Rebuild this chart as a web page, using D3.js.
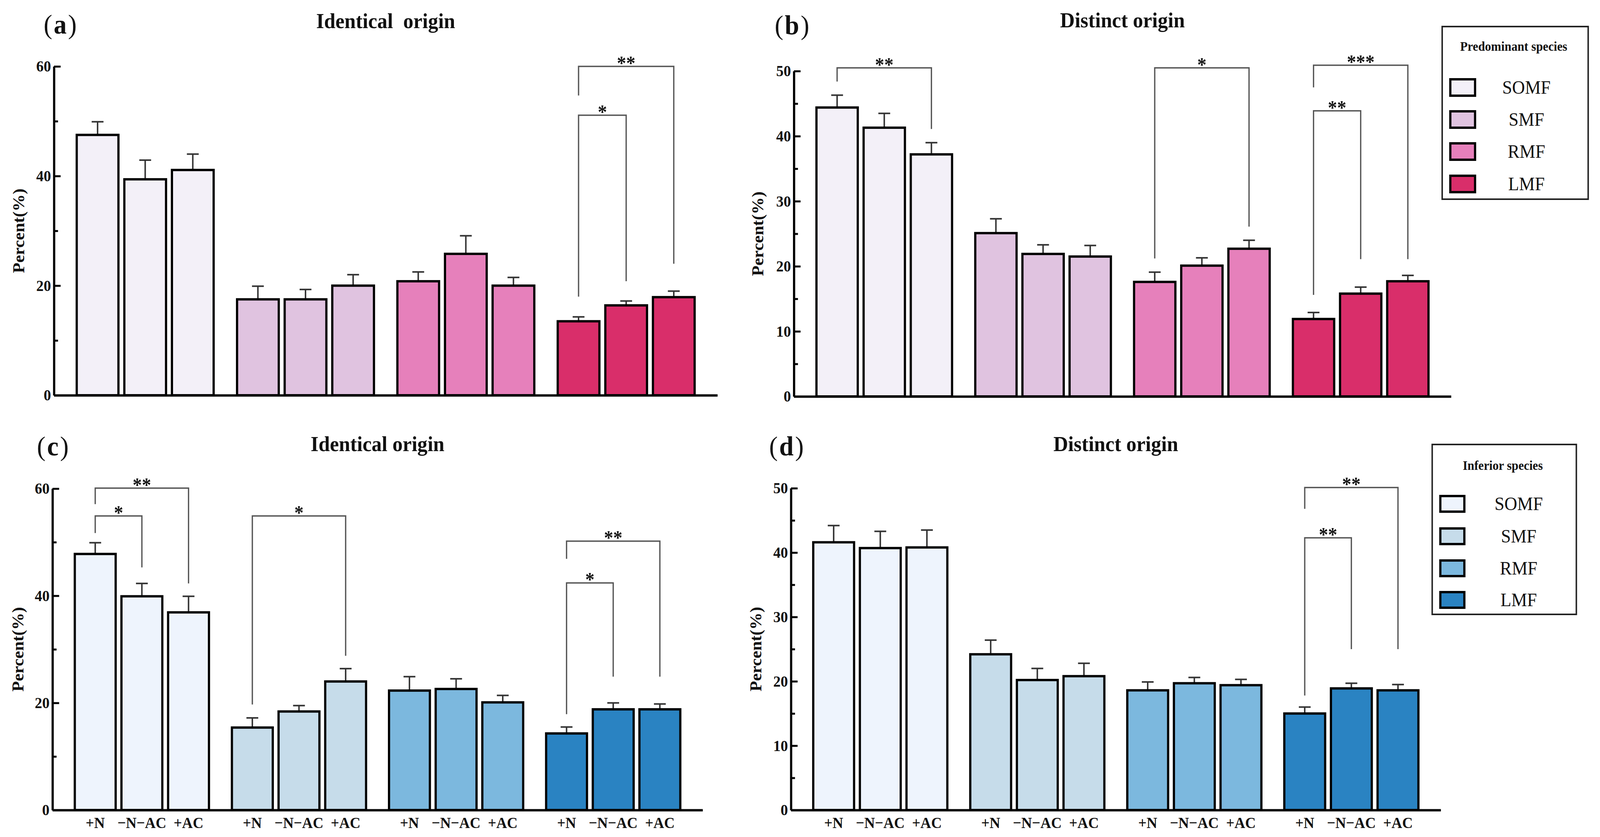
<!DOCTYPE html>
<html><head><meta charset="utf-8">
<script src="https://cdn.jsdelivr.net/npm/d3@7"></script>
<style>
html,body{margin:0;padding:0;width:100%;height:100%;overflow:hidden;background:#fff}
svg{display:block;width:100vw;height:100vh;background:#fff}
text{font-family:"Liberation Serif","Times New Roman",serif;fill:#111}
</style>
</head><body>
<svg id="chart" viewBox="0 0 4329 2143" preserveAspectRatio="none"></svg>
<script>
// ---------- data ----------
const groups = ["SOMF", "SMF", "RMF", "LMF"];
const treatments = ["+N", "−N−AC", "+AC"];
const pinkColors = ["#f3f0f8", "#e0c3e0", "#e680bb", "#d92e6a"];
const blueColors = ["#eef4fd", "#c6dcea", "#7cb8de", "#2a83c2"];
const ticks60 = [0, 20, 40, 60];
const minor60 = [10, 30, 50];
const ticks50 = [0, 10, 20, 30, 40, 50];
const minor50 = [5, 15, 25, 35, 45];

// means (rows = groups SOMF..LMF, cols = treatments +N, −N−AC, +AC)
const meanA = [[47.5, 39.4, 41.1], [17.5, 17.5, 20.0], [20.8, 25.8, 20.0], [13.5, 16.4, 17.9]];
const errA  = [[2.4, 3.5, 2.9], [2.4, 1.8, 2.0], [1.7, 3.3, 1.5], [0.8, 0.8, 1.1]];
const meanB = [[44.4, 41.3, 37.2], [25.1, 21.9, 21.5], [17.6, 20.1, 22.7], [11.9, 15.8, 17.7]];
const errB  = [[1.9, 2.2, 1.8], [2.2, 1.4, 1.7], [1.5, 1.2, 1.3], [1.0, 1.0, 0.9]];
const meanC = [[47.8, 39.9, 36.9], [15.4, 18.4, 24.0], [22.3, 22.6, 20.1], [14.3, 18.8, 18.8]];
const errC  = [[2.1, 2.4, 3.0], [1.8, 1.1, 2.4], [2.6, 1.9, 1.3], [1.2, 1.2, 1.0]];
const meanD = [[41.6, 40.7, 40.8], [24.2, 20.2, 20.8], [18.6, 19.7, 19.4], [15.0, 18.9, 18.6]];
const errD  = [[2.6, 2.6, 2.7], [2.2, 1.8, 2.0], [1.3, 0.9, 0.9], [1.0, 0.8, 0.9]];

// significance brackets: group, from treatment, to treatment, label, bracket level, left leg end, right leg end (data units)
const sigA = [
  {g: 3, i: 0, j: 2, label: "**", top: 60.0, l: 54.7, r: 24.0},
  {g: 3, i: 0, j: 1, label: "*",  top: 51.1, l: 18.0, r: 20.8}
];
const sigB = [
  {g: 0, i: 0, j: 2, label: "**",  top: 50.5, l: 48.4, r: 41.1},
  {g: 2, i: 0, j: 2, label: "*",   top: 50.5, l: 21.2, r: 26.1},
  {g: 3, i: 0, j: 2, label: "***", top: 50.9, l: 47.5, r: 21.1},
  {g: 3, i: 0, j: 1, label: "**",  top: 43.9, l: 15.6, r: 21.1}
];
const sigC = [
  {g: 0, i: 0, j: 2, label: "**", top: 60.1, l: 57.1, r: 42.3},
  {g: 0, i: 0, j: 1, label: "*",  top: 54.9, l: 51.7, r: 45.3},
  {g: 1, i: 0, j: 2, label: "*",  top: 54.9, l: 19.7, r: 28.8},
  {g: 3, i: 0, j: 2, label: "**", top: 50.2, l: 46.9, r: 24.9},
  {g: 3, i: 0, j: 1, label: "*",  top: 42.4, l: 17.9, r: 24.9}
];
const sigD = [
  {g: 3, i: 0, j: 2, label: "**", top: 50.1, l: 46.8, r: 25.0},
  {g: 3, i: 0, j: 1, label: "**", top: 42.3, l: 17.8, r: 25.0}
];

// ---------- layout ----------
const panels = [
  {tag: "a", title: "Identical  origin", mean: meanA, err: errA, sig: sigA, max: 60, ticks: ticks60, minor: minor60,
   colors: pinkColors, xr: [146, 1941], yr: [1012, 170], titleY: 72, tagX: 118, tagY: 86, ylabX: 51, xlabels: false},
  {tag: "b", title: "Distinct origin", mean: meanB, err: errB, sig: sigB, max: 50, ticks: ticks50, minor: minor50,
   colors: pinkColors, xr: [2148, 3926], yr: [1015, 182], titleY: 70, tagX: 2096, tagY: 88, ylabX: 2050, xlabels: false},
  {tag: "c", title: "Identical origin", mean: meanC, err: errC, sig: sigC, max: 60, ticks: ticks60, minor: minor60,
   colors: blueColors, xr: [142, 1901], yr: [2074, 1251], titleY: 1155, tagX: 100, tagY: 1166, ylabX: 49, xlabels: true},
  {tag: "d", title: "Distinct origin", mean: meanD, err: errD, sig: sigD, max: 50, ticks: ticks50, minor: minor50,
   colors: blueColors, xr: [2140, 3898], yr: [2074, 1250], titleY: 1155, tagX: 2081, tagY: 1166, ylabX: 2045, xlabels: true}
];

const legends = [
  {title: "Predominant species", colors: pinkColors, box: [3902, 68, 4297, 510], titleY: 130, sw: [3924, 67, 42], rows: [224, 306, 388, 471], labX: 4130},
  {title: "Inferior species", colors: blueColors, box: [3875, 1138, 4265, 1573], titleY: 1203, sw: [3897, 65, 40], rows: [1290, 1373, 1455, 1536], labX: 4109}
];

const svg = d3.select("#chart");
svg.append("rect").attr("width", 4329).attr("height", 2143).attr("fill", "#fff");

panels.forEach(p => {
  const g = svg.append("g");
  const xg = d3.scaleBand().domain(groups).range(p.xr).paddingInner(0.146).paddingOuter(0.142);
  const xi = d3.scaleBand().domain(treatments).range([0, xg.bandwidth()]).paddingInner(0.124).paddingOuter(0);
  const y = d3.scaleLinear().domain([0, p.max]).range(p.yr);
  const cx = (gi, ti) => xg(groups[gi]) + xi(treatments[ti]) + xi.bandwidth() / 2;

  const rows = [];
  p.mean.forEach((r, gi) => r.forEach((v, ti) => rows.push({gi, ti, v, e: p.err[gi][ti]})));

  // error bars (upper only)
  const eb = g.append("g").attr("stroke", "#333").attr("stroke-width", 4);
  rows.forEach(d => {
    const x = cx(d.gi, d.ti);
    eb.append("line").attr("x1", x).attr("x2", x).attr("y1", y(d.v)).attr("y2", y(d.v + d.e));
    eb.append("line").attr("x1", x - 16).attr("x2", x + 16).attr("y1", y(d.v + d.e)).attr("y2", y(d.v + d.e));
  });

  // bars
  g.append("g").selectAll("rect").data(rows).join("rect")
    .attr("x", d => xg(groups[d.gi]) + xi(treatments[d.ti]))
    .attr("width", xi.bandwidth())
    .attr("y", d => y(d.v))
    .attr("height", d => y(0) - y(d.v))
    .attr("fill", d => p.colors[d.gi])
    .attr("stroke", "#000").attr("stroke-width", 6);

  // x axis line
  const xa = g.append("g").attr("transform", `translate(0,${y(0)})`)
    .call(d3.axisBottom(xg).tickSize(0).tickSizeOuter(0).tickFormat(""));
  xa.select(".domain").attr("stroke", "#000").attr("stroke-width", 6);

  // y axis
  const ya = g.append("g").attr("transform", `translate(${p.xr[0]},0)`)
    .call(d3.axisLeft(y).tickValues(p.ticks).tickSize(-18).tickSizeOuter(0).tickPadding(8).tickFormat(d3.format("d")));
  ya.select(".domain").attr("stroke", "#000").attr("stroke-width", 6);
  ya.selectAll(".tick line").attr("stroke", "#000").attr("stroke-width", 5);
  ya.selectAll(".tick text").attr("font-size", 40).attr("font-weight", "bold").attr("fill", "#111")
    .style("font-family", '"Liberation Serif", serif');
  const ym = g.append("g").attr("transform", `translate(${p.xr[0]},0)`)
    .call(d3.axisLeft(y).tickValues(p.minor).tickSize(-11).tickSizeOuter(0).tickFormat(""));
  ym.select(".domain").remove();
  ym.selectAll(".tick line").attr("stroke", "#000").attr("stroke-width", 5);

  // x labels
  if (p.xlabels) {
    const xl = g.append("g");
    rows.forEach(d => {
      xl.append("text").attr("x", cx(d.gi, d.ti)).attr("y", 2120)
        .attr("text-anchor", "middle").attr("font-size", 40).attr("font-weight", "bold")
        .text(treatments[d.ti]);
    });
  }

  // significance brackets
  const sg = g.append("g");
  p.sig.forEach(s => {
    const x1 = cx(s.g, s.i), x2 = cx(s.g, s.j);
    sg.append("path")
      .attr("d", `M${x1},${y(s.l)}V${y(s.top)}H${x2}V${y(s.r)}`)
      .attr("fill", "none").attr("stroke", "#555").attr("stroke-width", 3.5);
    sg.append("text").attr("x", (x1 + x2) / 2).attr("y", y(s.top) + 8)
      .attr("text-anchor", "middle").attr("font-size", 50).attr("font-weight", "bold")
      .text(s.label);
  });

  // title
  g.append("text").attr("x", (p.xr[0] + p.xr[1]) / 2).attr("y", p.titleY)
    .attr("text-anchor", "middle").attr("font-size", 55).attr("font-weight", "bold")
    .attr("xml:space", "preserve").style("white-space", "pre")
    .text(p.title);

  // panel tag
  const t = g.append("text").attr("x", p.tagX).attr("y", p.tagY).attr("font-size", 70);
  t.append("tspan").attr("font-weight", "normal").text("(");
  t.append("tspan").attr("font-weight", "bold").attr("dx", 4).text(p.tag);
  t.append("tspan").attr("font-weight", "normal").attr("dx", 4).text(")");

  // y label
  const ymid = (p.yr[0] + p.yr[1]) / 2;
  g.append("text").attr("transform", `translate(${p.ylabX},${ymid}) rotate(-90)`)
    .attr("text-anchor", "middle").attr("dominant-baseline", "central")
    .attr("font-size", 44).attr("font-weight", "bold").text("Percent(%)");
});

// legends
legends.forEach(L => {
  const g = svg.append("g");
  const [x0, y0, x1, y1] = L.box;
  g.append("rect").attr("x", x0).attr("y", y0).attr("width", x1 - x0).attr("height", y1 - y0)
    .attr("fill", "#fff").attr("stroke", "#222").attr("stroke-width", 4);
  g.append("text").attr("x", (x0 + x1) / 2 - 4).attr("y", L.titleY).attr("text-anchor", "middle")
    .attr("font-size", 33).attr("font-weight", "bold").text(L.title);
  groups.forEach((name, i) => {
    const [sx, sw, sh] = L.sw;
    g.append("rect").attr("x", sx).attr("y", L.rows[i] - sh / 2).attr("width", sw).attr("height", sh)
      .attr("fill", L.colors[i]).attr("stroke", "#000").attr("stroke-width", 6);
    g.append("text").attr("x", L.labX).attr("y", L.rows[i] + 16).attr("text-anchor", "middle")
      .attr("font-size", 48).text(name);
  });
});
</script>
</body></html>
